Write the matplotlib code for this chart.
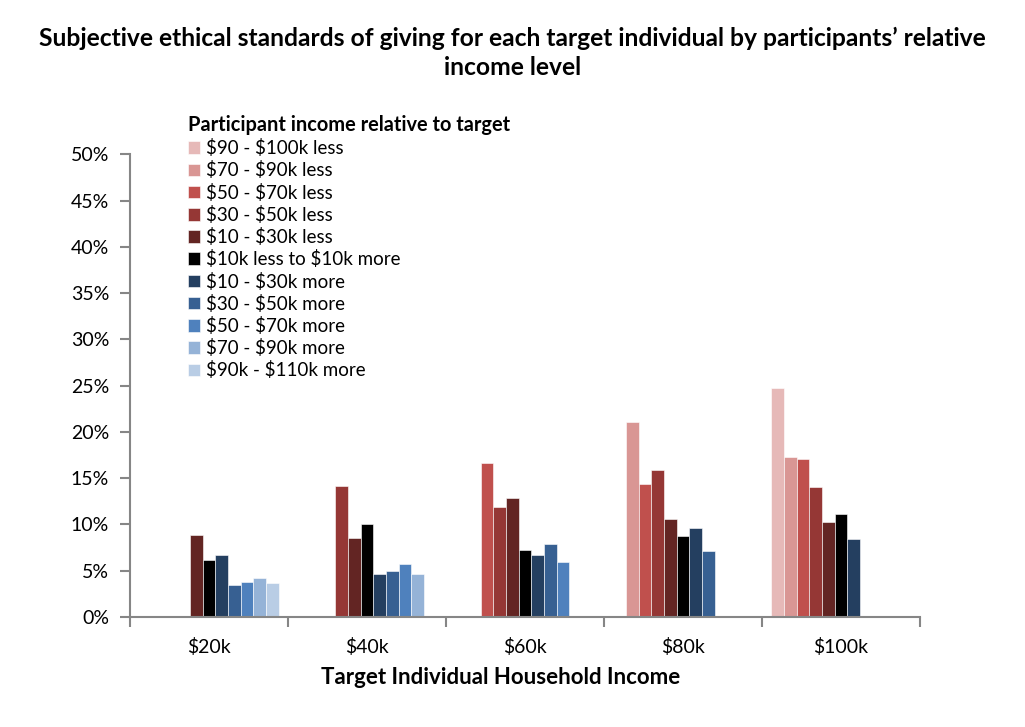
import matplotlib
matplotlib.use('Agg')
import matplotlib.pyplot as plt
import numpy as np

plt.rcParams['font.family'] = ['Lato', 'DejaVu Sans']

# target incomes on the x axis
targets = [r'\$20k', r'\$40k', r'\$60k', r'\$80k', r'\$100k']

# series: participant income relative to target
groups = [r'\$90 - \$100k less', r'\$70 - \$90k less', r'\$50 - \$70k less', r'\$30 - \$50k less',
          r'\$10 - \$30k less', r'\$10k less to \$10k more', r'\$10 - \$30k more', r'\$30 - \$50k more',
          r'\$50 - \$70k more', r'\$70 - \$90k more', r'\$90k - \$110k more']
colors = ['#E6B9B8', '#D99694', '#C0504D', '#953735', '#632523', '#000000',
          '#243F60', '#376092', '#4F81BD', '#95B3D7', '#B9CDE5']

# percent values, one list per series (None = no participants in that cell)
v_90_100_less = [None, None, None, None, 24.8]
v_70_90_less = [None, None, None, 21.1, 17.3]
v_50_70_less = [None, None, 16.6, 14.4, 17.1]
v_30_50_less = [None, 14.2, 11.9, 15.9, 14.1]
v_10_30_less = [8.9, 8.5, 12.9, 10.6, 10.3]
v_10_10 = [6.2, 10.0, 7.2, 8.8, 11.1]
v_10_30_more = [6.7, 4.7, 6.7, 9.6, 8.4]
v_30_50_more = [3.5, 5.0, 7.9, 7.1, None]
v_50_70_more = [3.8, 5.7, 5.9, None, None]
v_70_90_more = [4.2, 4.6, None, None, None]
v_90_110_more = [3.7, None, None, None, None]

values = [v_90_100_less, v_70_90_less, v_50_70_less, v_30_50_less, v_10_30_less, v_10_10,
          v_10_30_more, v_30_50_more, v_50_70_more, v_70_90_more, v_90_110_more]

fig = plt.figure(figsize=(10.25, 7.27), dpi=100, facecolor='w')
ax = fig.add_axes([130/1025., 1-617/727., 790/1025., (617-154.3)/727.])

x = np.arange(len(targets))
w = 0.0804
for i, (name, vals, c) in enumerate(zip(groups, values, colors)):
    ys = np.array([np.nan if v is None else v/100. for v in vals])
    ax.bar(x + (i - 5)*w, np.nan_to_num(ys), width=w, color=c, edgecolor='white',
           linewidth=0.4, label=name)

ax.set_xlim(-0.5, 4.5)
ax.set_ylim(0, 0.5)
ax.set_yticks(np.arange(0, 0.51, 0.05))
ax.set_yticklabels(['%d%%' % round(t*100) for t in np.arange(0, 0.51, 0.05)], fontsize=14)
ax.set_xticks(x)
ax.set_xticklabels(targets, fontsize=14)
ax.set_xticks(np.arange(-0.5, 4.6, 1), minor=True)
ax.tick_params(axis='x', which='major', length=0, pad=15)
ax.tick_params(axis='x', which='minor', length=7, color='#868686', width=1.5)
ax.tick_params(axis='y', length=7, color='#868686', width=1.5, pad=8)

for s in ['top', 'right']:
    ax.spines[s].set_visible(False)
for s in ['left', 'bottom']:
    ax.spines[s].set_color('#868686')
    ax.spines[s].set_linewidth(1.5)

ax.set_xlabel('Target Individual Household Income', fontsize=16, fontweight='bold')
ax.xaxis.set_label_coords((501-130)/790., -50/462.4)
fig.text(0.5, 0.963, 'Subjective ethical standards of giving for each target individual by participants\u2019 relative\nincome level',
         ha='center', va='top', fontsize=17.7, fontweight='bold', linespacing=1.3)

leg = ax.legend(loc='upper left', bbox_to_anchor=(188/1025., 1-115/727.), bbox_transform=fig.transFigure,
                frameon=False, fontsize=13.5, title='Participant income relative to target',
                title_fontproperties={'weight': 'bold', 'size': 14.4}, alignment='left',
                handlelength=0.65, handleheight=0.65, handletextpad=0.3, labelspacing=0.225,
                borderaxespad=0, borderpad=0)

fig.savefig('out.png', dpi=100)
